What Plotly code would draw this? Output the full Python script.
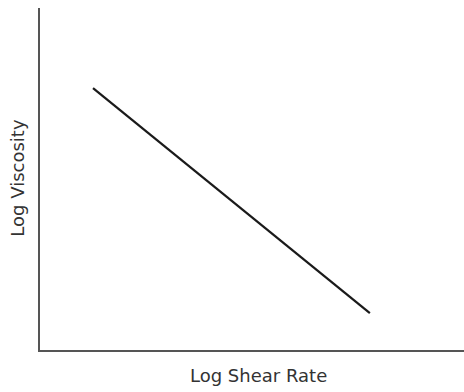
import plotly.graph_objects as go

# Data (normalized log units)
log_shear_rate = [0.125, 0.778]
log_viscosity = [0.766, 0.108]

x_title = "Log Shear Rate"
y_title = "Log Viscosity"

fig = go.Figure()
fig.add_trace(go.Scatter(
    x=log_shear_rate, y=log_viscosity, mode="lines",
    line=dict(color="#1a1a1a", width=2.2), hoverinfo="skip", showlegend=False,
))

axis_common = dict(
    showline=True, linecolor="#555555", linewidth=1.6,
    showgrid=False, zeroline=False, showticklabels=False, ticks="",
    range=[0, 1], fixedrange=True,
)
fig.update_xaxes(**axis_common)
fig.update_yaxes(**axis_common)

fig.update_layout(
    width=456, height=384,
    margin=dict(l=32, r=0, t=0, b=42),
    paper_bgcolor="white", plot_bgcolor="white",
    font=dict(family="DejaVu Sans, Liberation Sans, Arial, sans-serif", color="#333333"),
    annotations=[
        dict(text=x_title, xref="paper", yref="paper", x=0.515, y=0,
             xanchor="center", yanchor="middle", yshift=-25, showarrow=False,
             font=dict(size=18)),
        dict(text=y_title, xref="paper", yref="paper", x=0, y=0.504,
             xanchor="center", yanchor="middle", xshift=-22, textangle=-90,
             showarrow=False, font=dict(size=18)),
    ],
)

fig.write_html(
    "out.html",
    default_width="456px",
    default_height="384px",
    post_script=(
        "document.documentElement.style.overflow='hidden';"
        "document.body.style.overflow='hidden';"
        "document.body.style.margin='0';"
        "document.body.style.padding='8px 0 0 8px';"
    ),
)
